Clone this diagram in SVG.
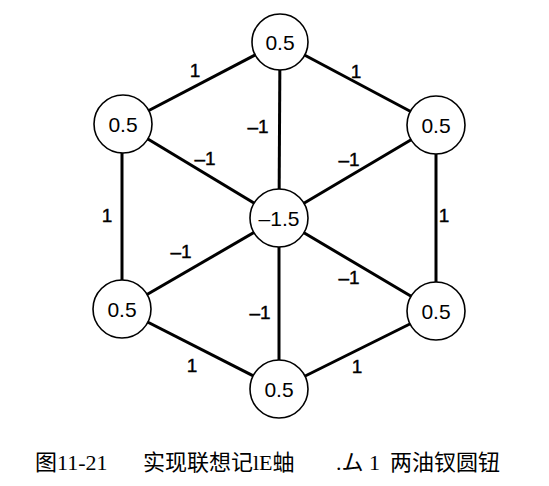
<svg xmlns="http://www.w3.org/2000/svg" width="549" height="486" viewBox="0 0 549 486">
<style>
.edge{stroke:#000;stroke-width:3;fill:none}
.node circle{fill:#fff;stroke:#000;stroke-width:1.6}
.node text{font-family:"Liberation Sans",Arial,sans-serif;font-size:21px;text-anchor:middle;dominant-baseline:central}
.lbl{font-family:"Liberation Sans",Arial,sans-serif;font-size:19px;text-anchor:middle;dominant-baseline:central;stroke:#000;stroke-width:0.4}
.cap{font-family:"Liberation Serif","Noto Sans CJK SC",serif;font-size:22px}
</style>
<rect width="549" height="486" fill="#fff"/>
<g id="connectors">
<line class="edge" x1="123" y1="124" x2="280" y2="42"/>
<line class="edge" x1="280" y1="42" x2="436" y2="125"/>
<line class="edge" x1="122" y1="124" x2="122" y2="309"/>
<line class="edge" x1="436" y1="125" x2="436" y2="311"/>
<line class="edge" x1="122" y1="309" x2="279" y2="389"/>
<line class="edge" x1="279" y1="389" x2="436" y2="311"/>
<line class="edge" x1="280" y1="42" x2="279" y2="218"/>
<line class="edge" x1="279" y1="218" x2="279" y2="389"/>
<line class="edge" x1="123" y1="124" x2="279" y2="218"/>
<line class="edge" x1="436" y1="125" x2="279" y2="218"/>
<line class="edge" x1="122" y1="309" x2="279" y2="218"/>
<line class="edge" x1="436" y1="311" x2="279" y2="218"/>
<text class="lbl" x="195" y="70">1</text>
<text class="lbl" x="356" y="71">1</text>
<text class="lbl" x="258" y="126">–1</text>
<text class="lbl" x="205" y="158">–1</text>
<text class="lbl" x="349" y="159">–1</text>
<text class="lbl" x="107" y="215">1</text>
<text class="lbl" x="444" y="215">1</text>
<text class="lbl" x="181" y="251">–1</text>
<text class="lbl" x="349" y="277">–1</text>
<text class="lbl" x="260" y="312">–1</text>
<text class="lbl" x="192" y="365">1</text>
<text class="lbl" x="357" y="366">1</text>
</g>
<g id="n-top" class="node"><circle cx="280" cy="42" r="28"/><text x="280" y="42">0.5</text></g>
<g id="n-tl" class="node"><circle cx="123" cy="124" r="29"/><text x="123" y="124">0.5</text></g>
<g id="n-tr" class="node"><circle cx="436" cy="125" r="29"/><text x="436" y="125">0.5</text></g>
<g id="n-bl" class="node"><circle cx="122" cy="309" r="29"/><text x="122" y="309">0.5</text></g>
<g id="n-br" class="node"><circle cx="436" cy="311" r="29"/><text x="436" y="311">0.5</text></g>
<g id="n-bot" class="node"><circle cx="279" cy="389" r="29"/><text x="279" y="389">0.5</text></g>
<g id="n-center" class="node"><circle cx="279" cy="218" r="29"/><text x="279" y="218">–1.5</text></g>
<g id="caption">
<text class="cap" x="35" y="470">图11-21</text>
<text class="cap" x="143" y="470">实现联想记lE蚰</text>
<text class="cap" x="336" y="470">.ム 1</text>
<text class="cap" x="390" y="470">两油钗圆钮</text>
</g>
</svg>
